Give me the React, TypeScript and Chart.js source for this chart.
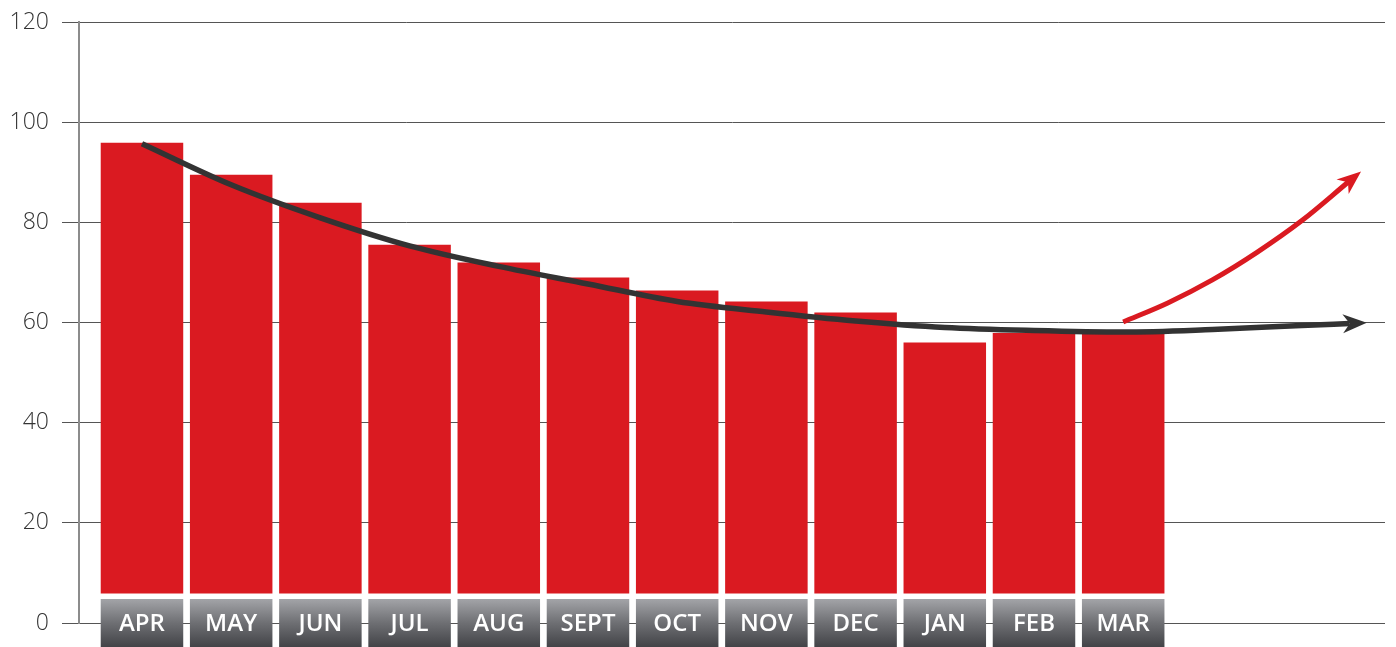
import React, { useEffect, useRef } from "react";
import { Chart, registerables } from "chart.js";

Chart.register(...registerables);

// ---- data ----
const categories = ["APR", "MAY", "JUN", "JUL", "AUG", "SEPT", "OCT", "NOV", "DEC", "JAN", "FEB", "MAR"];
const values = [95.9, 89.5, 83.9, 75.5, 72.0, 69.0, 66.4, 64.2, 62.0, 56.0, 57.9, 57.9];
const barBase = 5.9;
const labelBandLow = -4.8;
const labelBandHigh = 4.8;

const trendX = [0, 1, 2, 3, 4, 5, 6, 7, 8, 9, 10, 11, 12, 13, 13.54];
const trendY = [95.7, 87.5, 80.9, 75.3, 71.2, 67.7, 64.2, 62.1, 60.3, 59.0, 58.4, 58.1, 58.6, 59.4, 59.8];

const upX = [11, 11.5, 12, 12.5, 13, 13.52];
const upY = [60.1, 63.9, 68.5, 74.0, 80.3, 88.0];

const yTicks = [0, 20, 40, 60, 80, 100, 120];

// ---- style ----
const RED = "#da1a21";
const DARK = "#333333";

const boxLabelsPlugin = {
  id: "boxLabels",
  afterDatasetsDraw(chart: any) {
    const meta = chart.getDatasetMeta(3);
    const y = chart.scales.y;
    const ctx = chart.ctx;
    const cy = (y.getPixelForValue(labelBandLow) + y.getPixelForValue(labelBandHigh)) / 2;
    ctx.save();
    ctx.fillStyle = "#ffffff";
    ctx.font = "600 24px 'Open Sans', sans-serif";
    ctx.textAlign = "center";
    ctx.textBaseline = "middle";
    meta.data.forEach((el: any, i: number) => {
      ctx.fillText(categories[i], el.x, cy + 1);
    });
    ctx.restore();
  },
};

const arrowPlugin = {
  id: "arrowHeads",
  afterDatasetsDraw(chart: any) {
    const ctx = chart.ctx;
    [0, 1].forEach((di) => {
      const meta = chart.getDatasetMeta(di);
      const pts = meta.data;
      if (pts.length < 2) return;
      const a = pts[pts.length - 2];
      const b = pts[pts.length - 1];
      let dx = b.x - a.x;
      let dy = b.y - a.y;
      const len = Math.hypot(dx, dy) || 1;
      dx /= len;
      dy /= len;
      const headLen = 24;
      const half = 9.5;
      const notch = 7;
      const tipX = b.x + dx * (headLen - notch);
      const tipY = b.y + dy * (headLen - notch);
      const backX = tipX - dx * headLen;
      const backY = tipY - dy * headLen;
      const nx = -dy;
      const ny = dx;
      ctx.save();
      ctx.fillStyle = chart.data.datasets[di].borderColor;
      ctx.beginPath();
      ctx.moveTo(tipX, tipY);
      ctx.lineTo(backX + nx * half, backY + ny * half);
      ctx.lineTo(tipX - dx * (headLen - notch), tipY - dy * (headLen - notch));
      ctx.lineTo(backX - nx * half, backY - ny * half);
      ctx.closePath();
      ctx.fill();
      ctx.restore();
    });
  },
};

export default function App() {
  const ref = useRef<HTMLCanvasElement | null>(null);

  useEffect(() => {
    if (!ref.current) return;
    const chart = new Chart(ref.current, {
      type: "bar",
      data: {
        datasets: [
          {
            type: "line",
            data: trendX.map((x, i) => ({ x, y: trendY[i] })),
            borderColor: DARK,
            borderWidth: 5.5,
            pointRadius: 0,
            cubicInterpolationMode: "monotone",
            borderCapStyle: "butt",
            order: 0,
          } as any,
          {
            type: "line",
            data: upX.map((x, i) => ({ x, y: upY[i] })),
            borderColor: RED,
            borderWidth: 5,
            pointRadius: 0,
            cubicInterpolationMode: "monotone",
            borderCapStyle: "butt",
            order: 0,
          } as any,
          {
            type: "bar",
            data: values.map((v, i) => ({ x: i, y: [barBase, v] })),
            backgroundColor: RED,
            borderWidth: 0,
            grouped: false,
            barPercentage: 0.925,
            categoryPercentage: 1,
            order: 2,
          } as any,
          {
            type: "bar",
            data: categories.map((_, i) => ({ x: i, y: [labelBandLow, labelBandHigh] })),
            backgroundColor: (c: any) => {
              const ch = c.chart;
              if (!ch.chartArea) return "#707175";
              const y = ch.scales.y;
              const g = ch.ctx.createLinearGradient(
                0,
                y.getPixelForValue(labelBandHigh),
                0,
                y.getPixelForValue(labelBandLow)
              );
              g.addColorStop(0, "#a3a4a8");
              g.addColorStop(0.5, "#6e6f73");
              g.addColorStop(1, "#424347");
              return g;
            },
            borderWidth: 0,
            grouped: false,
            barPercentage: 0.925,
            categoryPercentage: 1,
            clip: false,
            order: 1,
          } as any,
        ],
      },
      options: {
        responsive: false,
        animation: false,
        layout: { padding: { top: 22, bottom: 24, right: 11, left: 0 } },
        plugins: {
          legend: { display: false },
          tooltip: { enabled: false },
        },
        scales: {
          x: {
            type: "linear",
            min: -0.706,
            max: 13.935,
            offset: false,
            bounds: "ticks",
            display: false,
          },
          y: {
            type: "linear",
            min: yTicks[0],
            max: yTicks[yTicks.length - 1],
            afterFit: (s: any) => {
              s.width = 79;
              s.paddingTop = 0;
              s.paddingBottom = 0;
            },
            afterBuildTicks: (s: any) => {
              s.ticks = yTicks.map((v) => ({ value: v }));
            },
            ticks: {
              padding: 13,
              color: "#333333",
              font: { family: "'Open Sans', sans-serif", size: 23, weight: "300" as any },
            },
            grid: {
              color: "#555555",
              lineWidth: 1,
              tickLength: 17,
              tickColor: "#555555",
              drawTicks: true,
            },
            border: { display: true, color: "#8c8c8c", width: 2 },
          },
        },
      } as any,
      plugins: [boxLabelsPlugin, arrowPlugin],
    });
    return () => chart.destroy();
  }, []);

  return (
    <div style={{ position: "absolute", left: 0, top: 0, width: 1396, height: 647, background: "#ffffff" }}>
      <canvas ref={ref} width={1396} height={647} style={{ display: "block" }} />
    </div>
  );
}
